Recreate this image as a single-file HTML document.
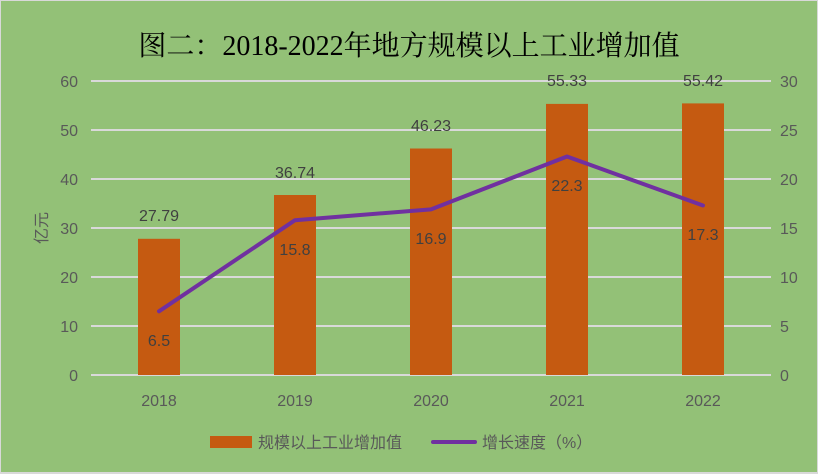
<!DOCTYPE html>
<html><head><meta charset="utf-8"><style>
body{margin:0;background:#fff}
svg{display:block}
text{font-family:"Liberation Sans","Noto Sans CJK SC",sans-serif}
</style></head><body>
<svg width="818" height="474" viewBox="0 0 818 474">
<rect x="0" y="0" width="818" height="474" fill="#d9d9d9"/>
<rect x="1" y="1" width="816" height="471" fill="#93c177"/>
<text x="409" y="55" text-anchor="middle" font-size="28" fill="#000" style="font-family:'Liberation Serif','Noto Serif CJK SC',serif">图二：2018-2022年地方规模以上工业增加值</text>
<g stroke="#d9d9d9" stroke-width="2">
<line x1="91" x2="771" y1="81" y2="81"/><line x1="91" x2="771" y1="130" y2="130"/>
<line x1="91" x2="771" y1="179" y2="179"/><line x1="91" x2="771" y1="228" y2="228"/>
<line x1="91" x2="771" y1="277" y2="277"/><line x1="91" x2="771" y1="326" y2="326"/>
<line x1="91" x2="771" y1="375" y2="375"/>
</g>
<g font-size="16" fill="#595959" text-anchor="end">
<text x="78" y="87">60</text><text x="78" y="136">50</text><text x="78" y="185">40</text><text x="78" y="234">30</text><text x="78" y="283">20</text><text x="78" y="332">10</text><text x="78" y="381">0</text>
</g>
<g font-size="16" fill="#595959" text-anchor="start">
<text x="780" y="87">30</text><text x="780" y="136">25</text><text x="780" y="185">20</text><text x="780" y="234">15</text><text x="780" y="283">10</text><text x="780" y="332">5</text><text x="780" y="381">0</text>
</g>
<text transform="translate(47,228) rotate(-90)" font-size="16" fill="#595959" text-anchor="middle">亿元</text>
<g fill="#c55a11">
<rect x="138" y="238.8" width="42" height="136.2"/>
<rect x="274" y="195" width="42" height="180"/>
<rect x="410" y="148.5" width="42" height="226.5"/>
<rect x="546" y="103.9" width="42" height="271.1"/>
<rect x="682" y="103.4" width="42" height="271.6"/>
</g>
<g font-size="16" fill="#404040" text-anchor="middle">
<text x="159" y="221">27.79</text><text x="295" y="178">36.74</text><text x="431" y="131">46.23</text><text x="567" y="86">55.33</text><text x="703" y="86">55.42</text>
</g>
<polyline points="159,311.3 295,220.2 431,209.4 567,156.5 703,205.5" fill="none" stroke="#7030a0" stroke-width="4" stroke-linejoin="round" stroke-linecap="round"/>
<g font-size="16" fill="#404040" text-anchor="middle">
<text x="159" y="346">6.5</text><text x="295" y="255">15.8</text><text x="431" y="244">16.9</text><text x="567" y="191">22.3</text><text x="703" y="240">17.3</text>
</g>
<g font-size="16" fill="#595959" text-anchor="middle">
<text x="159" y="406">2018</text><text x="295" y="406">2019</text><text x="431" y="406">2020</text><text x="567" y="406">2021</text><text x="703" y="406">2022</text>
</g>
<rect x="210" y="436" width="42" height="12" fill="#c55a11"/>
<text x="258" y="448" font-size="16" fill="#595959">规模以上工业增加值</text>
<line x1="433" x2="475" y1="442" y2="442" stroke="#7030a0" stroke-width="4" stroke-linecap="round"/>
<text x="482" y="448" font-size="16" fill="#595959">增长速度（%）</text>
</svg>
</body></html>
